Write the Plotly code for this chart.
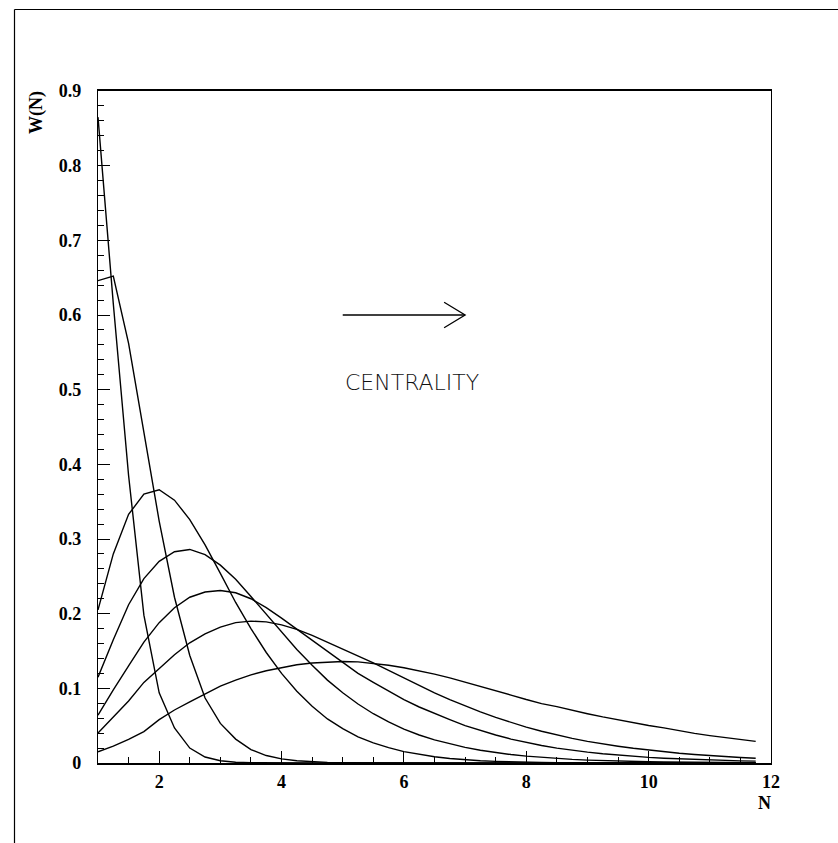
import plotly.graph_objects as go

# ---- data ----
N = [1.00, 1.25, 1.50, 1.75, 2.00, 2.25, 2.50, 2.75, 3.00, 3.25, 3.50, 3.75,
     4.00, 4.25, 4.50, 4.75, 5.00, 5.25, 5.50, 5.75, 6.00, 6.25, 6.50, 6.75,
     7.00, 7.25, 7.50, 7.75, 8.00, 8.25, 8.50, 8.75, 9.00, 9.25, 9.50, 9.75,
     10.00, 10.25, 10.50, 10.75, 11.00, 11.25, 11.50, 11.75]

w1 = [0.865, 0.615, 0.385, 0.198, 0.094, 0.047, 0.020, 0.008, 0.003, 0.001, 0.0003, 0.0001,
      0, 0, 0, 0, 0, 0, 0, 0, 0, 0, 0, 0,
      0, 0, 0, 0, 0, 0, 0, 0, 0, 0, 0, 0,
      0, 0, 0, 0, 0, 0, 0, 0]

w2 = [0.646, 0.652, 0.562, 0.440, 0.324, 0.222, 0.144, 0.087, 0.053, 0.032, 0.018, 0.010,
      0.0055, 0.003, 0.0015, 0.0008, 0.0004, 0.0002, 0.0001, 0, 0, 0, 0, 0,
      0, 0, 0, 0, 0, 0, 0, 0, 0, 0, 0, 0,
      0, 0, 0, 0, 0, 0, 0, 0]

w3 = [0.205, 0.280, 0.333, 0.360, 0.366, 0.352, 0.326, 0.292, 0.254, 0.215, 0.180, 0.148,
      0.120, 0.096, 0.076, 0.059, 0.046, 0.035, 0.027, 0.0205, 0.0153, 0.0113, 0.0083, 0.006,
      0.0043, 0.0031, 0.0022, 0.0015, 0.0011, 0.0008, 0.00055, 0.0004, 0.00027, 0.0002, 0.00013, 0.0001,
      0.00007, 0.00005, 0.00003, 0.00002, 0.00001, 0, 0, 0]

w4 = [0.115, 0.165, 0.212, 0.247, 0.270, 0.283, 0.286, 0.279, 0.265, 0.246, 0.223, 0.199,
      0.175, 0.152, 0.131, 0.111, 0.094, 0.079, 0.066, 0.055, 0.0455, 0.0375, 0.031, 0.0255,
      0.021, 0.017, 0.0139, 0.0113, 0.0092, 0.0074, 0.006, 0.0048, 0.0039, 0.0031, 0.0025, 0.002,
      0.0016, 0.0013, 0.001, 0.0008, 0.00065, 0.0005, 0.0004, 0.0003]

w5 = [0.064, 0.098, 0.130, 0.162, 0.188, 0.208, 0.222, 0.229, 0.231, 0.228, 0.220, 0.208,
      0.194, 0.179, 0.164, 0.149, 0.134, 0.120, 0.108, 0.096, 0.085, 0.075, 0.066, 0.058,
      0.050, 0.0435, 0.0375, 0.032, 0.0275, 0.0235, 0.020, 0.017, 0.0145, 0.0123, 0.0104, 0.0088,
      0.0075, 0.0064, 0.0055, 0.0047, 0.004, 0.0034, 0.0029, 0.0025]

w6 = [0.040, 0.062, 0.083, 0.108, 0.127, 0.145, 0.161, 0.173, 0.182, 0.188, 0.190, 0.189,
      0.185, 0.179, 0.171, 0.162, 0.153, 0.143, 0.134, 0.124, 0.114, 0.1035, 0.094, 0.085,
      0.0765, 0.0685, 0.061, 0.054, 0.048, 0.0425, 0.0375, 0.033, 0.029, 0.0255, 0.0225, 0.0197,
      0.0172, 0.015, 0.013, 0.0113, 0.0098, 0.0085, 0.0074, 0.0064]

w7 = [0.015, 0.0225, 0.0315, 0.042, 0.058, 0.071, 0.082, 0.093, 0.103, 0.111, 0.118, 0.1235,
      0.128, 0.1315, 0.134, 0.1355, 0.136, 0.1355, 0.1335, 0.131, 0.1275, 0.1235, 0.119, 0.114,
      0.1085, 0.103, 0.097, 0.091, 0.085, 0.0795, 0.0755, 0.0705, 0.066, 0.0617, 0.0577, 0.054,
      0.0503, 0.047, 0.043, 0.0397, 0.0367, 0.034, 0.0315, 0.029]

series = [w1, w2, w3, w4, w5, w6, w7]

x_tick_vals = [2, 4, 6, 8, 10, 12]
y_tick_vals = [0, 0.1, 0.2, 0.3, 0.4, 0.5, 0.6, 0.7, 0.8, 0.9]
y_tick_text = ["0", "0.1", "0.2", "0.3", "0.4", "0.5", "0.6", "0.7", "0.8", "0.9"]

label_text = "CENTRALITY"
arrow_from = (5.0, 0.6)
arrow_to = (7.0, 0.6)
label_pos = (5.0, 0.51)

# ---- figure ----
W, H = 838, 843
ML, MR, MT, MB = 98, 67, 91, 80
PW, PH = W - ML - MR, H - MT - MB

fig = go.Figure()
for s in series:
    fig.add_trace(go.Scatter(x=N, y=s, mode="lines",
                             line=dict(color="black", width=1.4),
                             showlegend=False, hoverinfo="skip"))

tfont = dict(family="Liberation Serif", size=18, color="black", weight="bold")

fig.update_layout(
    width=W, height=H,
    margin=dict(l=ML, r=MR, t=MT, b=MB, pad=0),
    paper_bgcolor="white", plot_bgcolor="white",
    xaxis=dict(range=[1, 12], tickvals=x_tick_vals, ticks="inside", ticklen=12,
               tickwidth=1, tickcolor="black", showgrid=False, zeroline=False,
               showline=True, linecolor="black", linewidth=1.5, mirror=True,
               tickfont=tfont, ticklabelstandoff=2,
               minor=dict(dtick=0.5, tick0=0, ticks="inside", ticklen=6,
                          tickwidth=1, tickcolor="black", showgrid=False)),
    yaxis=dict(range=[0, 0.9], tickvals=y_tick_vals, ticktext=y_tick_text,
               ticks="inside", ticklen=12, tickwidth=1, tickcolor="black",
               showgrid=False, zeroline=False,
               showline=True, linecolor="black", linewidth=1.2, mirror=True,
               tickfont=tfont, ticklabelstandoff=12,
               minor=dict(dtick=0.02, tick0=0, ticks="inside", ticklen=6,
                          tickwidth=1, tickcolor="black", showgrid=False)),
)

def px2x(px):
    return (px - ML) / PW

def py2y(py):
    return (H - MB - py) / PH

# outer page frame (left and top edges)
fig.add_shape(type="line", xref="paper", yref="paper",
              x0=px2x(14.5), x1=px2x(14.5), y0=py2y(9.5), y1=py2y(H + 2),
              line=dict(color="black", width=1.2))
fig.add_shape(type="line", xref="paper", yref="paper",
              x0=px2x(14.5), x1=px2x(W + 2), y0=py2y(9.5), y1=py2y(9.5),
              line=dict(color="black", width=1.2))

# arrow
fig.add_shape(type="line", xref="x", yref="y",
              x0=arrow_from[0], y0=arrow_from[1], x1=arrow_to[0], y1=arrow_to[1],
              line=dict(color="black", width=1.3))
hx = arrow_to[0] - 0.343
hy = 0.017
fig.add_shape(type="path", xref="x", yref="y",
              path=f"M {hx},{arrow_to[1] + hy} L {arrow_to[0]},{arrow_to[1]} L {hx},{arrow_to[1] - hy}",
              line=dict(color="black", width=1.3))

fig.add_annotation(x=label_pos[0], y=label_pos[1], xref="x", yref="y",
                   text=label_text, showarrow=False, xanchor="left", yanchor="middle",
                   font=dict(family="DejaVu Sans", size=22, color="#111111", weight=200))

afont = dict(family="Liberation Serif", size=18, color="black", weight="bold")
fig.add_annotation(x=px2x(36), y=py2y(112), xref="paper", yref="paper",
                   text="W(N)", textangle=-90, showarrow=False,
                   xanchor="center", yanchor="middle", font=afont)
fig.add_annotation(x=px2x(764), y=py2y(803), xref="paper", yref="paper",
                   text="N", showarrow=False,
                   xanchor="center", yanchor="middle", font=afont)

fig.write_html("out.html")
